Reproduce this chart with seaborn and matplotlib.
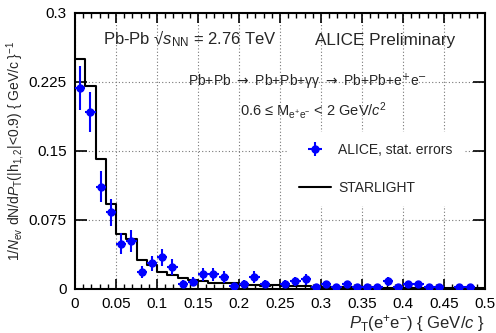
import numpy as np
import pandas as pd
import matplotlib
matplotlib.use("Agg")
import matplotlib.pyplot as plt
from matplotlib.lines import Line2D
import seaborn as sns

# bin edges of the pT histogram (GeV/c)
edges = np.linspace(0, 0.5, 41)
centers = (edges[:-1] + edges[1:]) / 2

# ALICE points (nan = no point drawn)
alice_y = [0.2187, 0.192, 0.111, 0.083, 0.049, 0.052, 0.018, 0.0274, 0.034, 0.023,
           0.0049, 0.0074, 0.0154, 0.0154, 0.0128, 0.0027, 0.0049, 0.0128, 0.0049, np.nan,
           0.0049, 0.008, 0.0103, 0.002, 0.0049, 0.002, 0.0049, 0.002, 0.002, 0.002,
           0.008, 0.002, 0.0049, 0.0049, 0.002, 0.002, np.nan, 0.002, 0.002, np.nan]
alice_err = [0.024, 0.0217, 0.017, 0.0147, 0.011, 0.012, 0.0065, 0.008, 0.0094, 0.0087,
             0.004, 0.005, 0.0069, 0.0069, 0.0065, 0.003, 0.004, 0.0065, 0.004, 0.0,
             0.004, 0.005, 0.006, 0.0025, 0.0035, 0.0025, 0.0035, 0.0025, 0.0025, 0.0025,
             0.005, 0.0025, 0.0035, 0.0035, 0.0025, 0.0025, 0.0, 0.0025, 0.0025, 0.0]

# STARLIGHT prediction
starlight = [0.2495, 0.2209, 0.1415, 0.0915, 0.0592, 0.0535, 0.031, 0.0255, 0.018, 0.0147,
             0.0118, 0.0095, 0.008, 0.0065, 0.0056, 0.006, 0.0038, 0.0035, 0.0032, 0.0035,
             0.003, 0.0025, 0.0025, 0.002, 0.002, 0.0018, 0.0015, 0.0015, 0.0012, 0.001,
             0.001, 0.001, 0.0009, 0.0008, 0.0008, 0.0007, 0.0006, 0.0006, 0.0005, 0.0005]

xticks = [0, 0.05, 0.1, 0.15, 0.2, 0.25, 0.3, 0.35, 0.4, 0.45, 0.5]
xticklabels = ["0", "0.05", "0.1", "0.15", "0.2", "0.25", "0.3", "0.35", "0.4", "0.45", "0.5"]
yticks = [0, 0.075, 0.15, 0.225, 0.3]
yticklabels = ["0", "0.075", "0.15", "0.225", "0.3"]

sns.set_theme(style="ticks")
plt.rcParams['font.family'] = ['Liberation Sans', 'DejaVu Sans']
plt.rcParams['mathtext.fontset'] = 'custom'
plt.rcParams['mathtext.rm'] = 'Liberation Sans'
plt.rcParams['mathtext.it'] = 'Liberation Sans:italic'
plt.rcParams['mathtext.sf'] = 'Liberation Sans'

sl = pd.DataFrame({"pt": centers, "w": starlight})

fig = plt.figure(figsize=(4.96, 3.33), dpi=100)
ax = fig.add_axes([75 / 496, 44.5 / 333, 410 / 496, 275.5 / 333])

ax.grid(True, color="#777777", linestyle=(0, (1, 2)), linewidth=0.8)
ax.set_axisbelow(True)

sns.histplot(data=sl, x="pt", weights="w", bins=list(edges), element="step", fill=False,
             color="black", linewidth=1.5, ax=ax, zorder=3)

eb = ax.errorbar(centers, alice_y, xerr=0.00625, yerr=alice_err, fmt="o", color="blue",
                 ms=5, elinewidth=1.5, capsize=0, zorder=4)

ax.set_xlim(0, 0.5)
ax.set_ylim(0, 0.3)
ax.set_xticks(xticks)
ax.set_xticklabels(xticklabels)
ax.set_yticks(yticks)
ax.set_yticklabels(yticklabels)
ax.xaxis.set_minor_locator(matplotlib.ticker.MultipleLocator(0.01))
ax.tick_params(axis="both", which="both", direction="in", top=True, right=True,
               labelsize=11, colors="black")
ax.tick_params(axis="x", which="major", length=7, width=1.2, pad=6)
ax.tick_params(axis="x", which="minor", length=3.5, width=1.0)
ax.tick_params(axis="y", which="major", length=8.5, width=1.2, pad=6)
for s in ax.spines.values():
    s.set_linewidth(1.5)
    s.set_color("black")

ax.set_xlabel(r"$P_{\rm T}$(e$^{+}$e$^{-}$) { GeV/$c$ }", fontsize=12, loc="right")
ax.set_ylabel(r"1/$N_{\rm ev}$ dN/d$P_{\rm T}$(|h$_{1,2}$|<0.9) { GeV/c }$^{-1}$", fontsize=10)
ax.yaxis.set_label_coords(-0.118, 0.5)
ax.xaxis.set_label_coords(1.0, -0.09)

ax.text(0.068, 0.885, "Pb-Pb √$s_{\\rm NN}$ = 2.76 TeV", transform=ax.transAxes,
        fontsize=12, va="baseline", ha="left")
ax.text(0.585, 0.885, "ALICE Preliminary", transform=ax.transAxes,
        fontsize=12.3, va="baseline", ha="left")
ax.text(0.567, 0.75, r"Pb+Pb $\rightarrow$ Pb+Pb+γγ $\rightarrow$ Pb+Pb+e$^{+}$e$^{-}$",
        transform=ax.transAxes, fontsize=10, va="center", ha="center",
        math_fontfamily="dejavusans")
ax.text(0.582, 0.645, "0.6 ≤ M$_{\\rm e^{+}e^{-}}$ < 2 GeV/$c^{2}$",
        transform=ax.transAxes, fontsize=10.5, va="center", ha="center")

handles = [eb, Line2D([], [], color="black", linewidth=1.5)]
leg = ax.legend(handles, ["ALICE, stat. errors", "STARLIGHT"], loc="upper left",
                bbox_to_anchor=(0.52, 0.569), frameon=True, fontsize=10,
                handlelength=2.3, handletextpad=0.5, labelspacing=1.75,
                borderpad=0.8, borderaxespad=0, fancybox=False)
leg.get_frame().set_facecolor("white")
leg.get_frame().set_edgecolor("none")
leg.get_frame().set_alpha(1)

fig.savefig("out.png", dpi=100)
